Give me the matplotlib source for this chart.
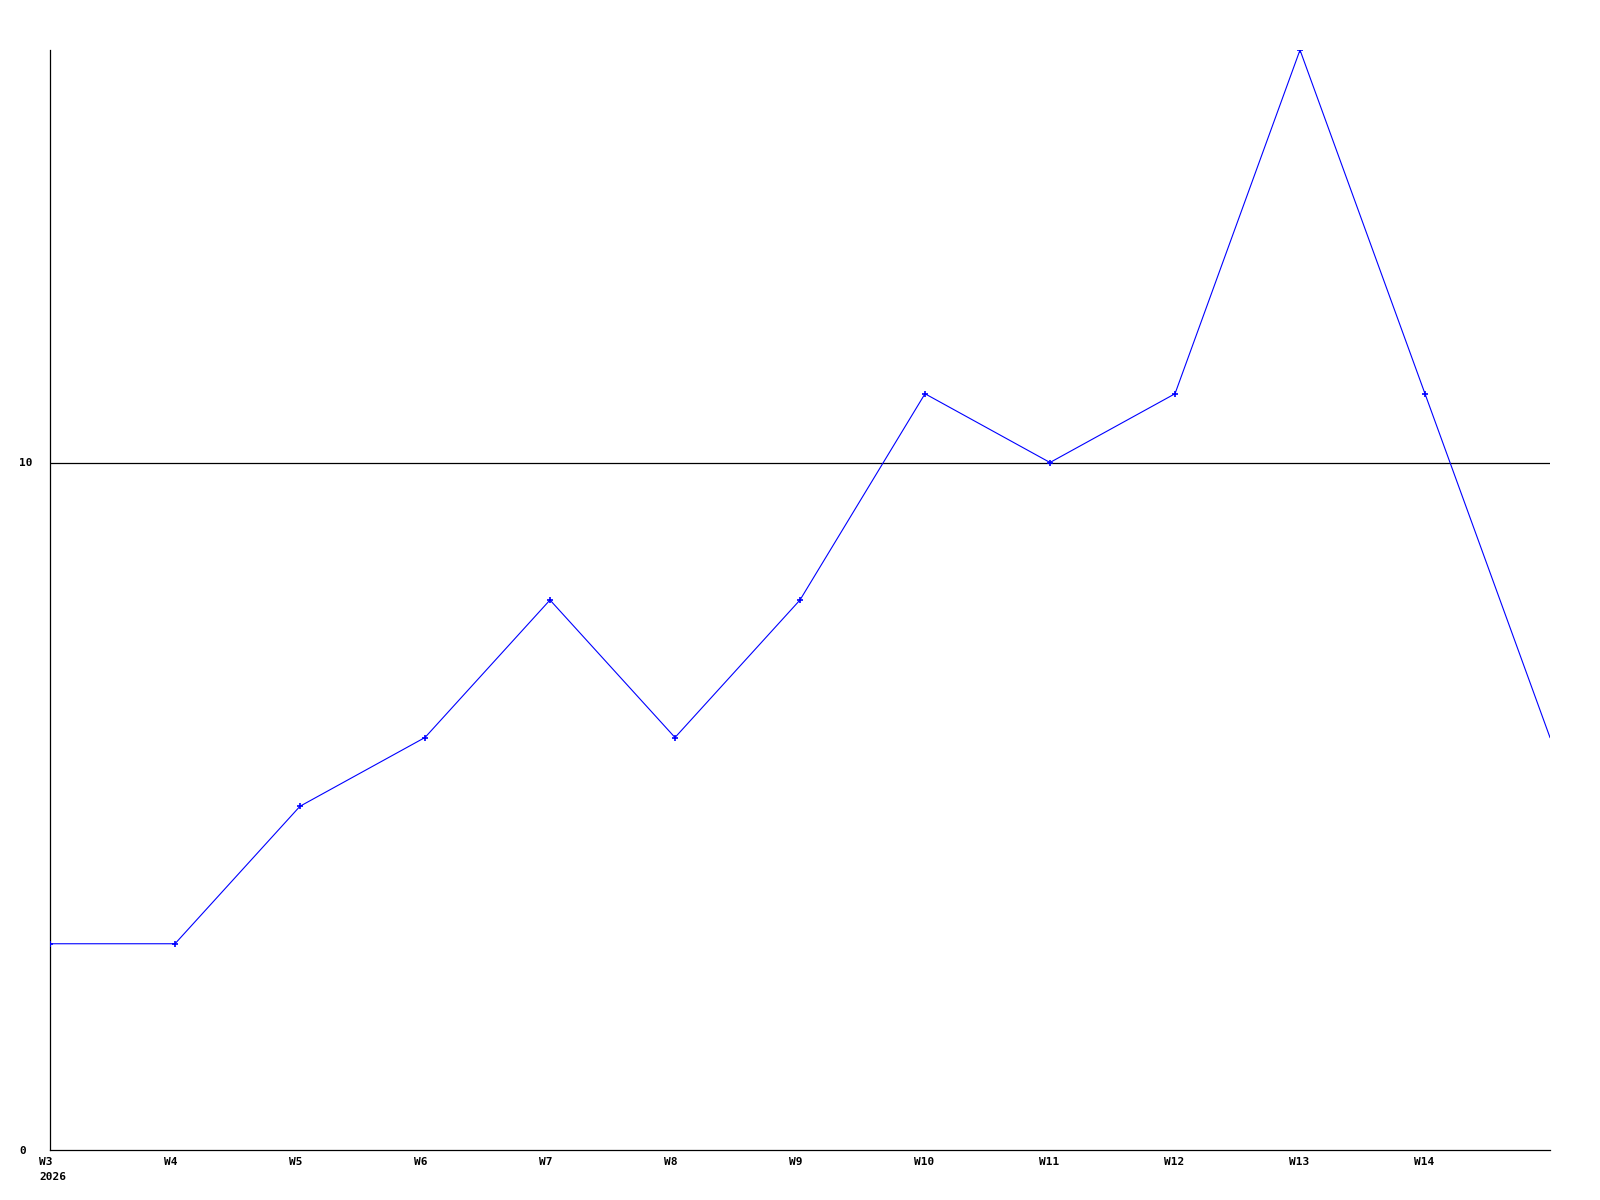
import matplotlib
matplotlib.use("Agg")
import matplotlib.pyplot as plt
from matplotlib.transforms import ScaledTranslation

weeks = ["W3", "W4", "W5", "W6", "W7", "W8", "W9", "W10", "W11", "W12", "W13", "W14", "W15"]
counts = [3, 3, 5, 6, 8, 6, 8, 11, 10, 11, 16, 11, 6]
tick_labels = ["W3\n2026", "W4", "W5", "W6", "W7", "W8", "W9", "W10", "W11", "W12", "W13", "W14"]

fig = plt.figure(figsize=(16, 12), dpi=100)
ax = fig.add_axes([50 / 1600, 50 / 1200, 1500 / 1600, 1100 / 1200])

x = list(range(len(weeks)))
# last point sits on the right edge, no marker there in the original
ax.plot(x, counts, color="#0000ff", linewidth=0.8, marker="+", markersize=4,
        markeredgewidth=1.2, markevery=list(range(len(weeks) - 1)), zorder=3)

ax.axhline(10, color="black", linewidth=0.9, zorder=2)

ax.set_xlim(0, len(weeks) - 1)
ax.set_ylim(0, 16)

for s in ["top", "right"]:
    ax.spines[s].set_visible(False)
for s in ["left", "bottom"]:
    ax.spines[s].set_linewidth(0.9)

font = dict(family="DejaVu Sans Mono", weight="bold", size=8)

ax.set_xticks(x[:-1])
ax.set_xticklabels(tick_labels, ha="left", va="top", multialignment="left", **font)
ax.set_yticks([0, 10])
ax.set_yticklabels(["0", "10"], ha="left", **font)
ax.tick_params(axis="x", length=0, pad=5)
ax.tick_params(axis="y", length=0, pad=22)

off = ScaledTranslation(-11 / 100, 0, fig.dpi_scale_trans)
for lab in ax.get_xticklabels():
    lab.set_transform(lab.get_transform() + off)
    lab.set_linespacing(1.65)

fig.savefig("out.png", dpi=100)
